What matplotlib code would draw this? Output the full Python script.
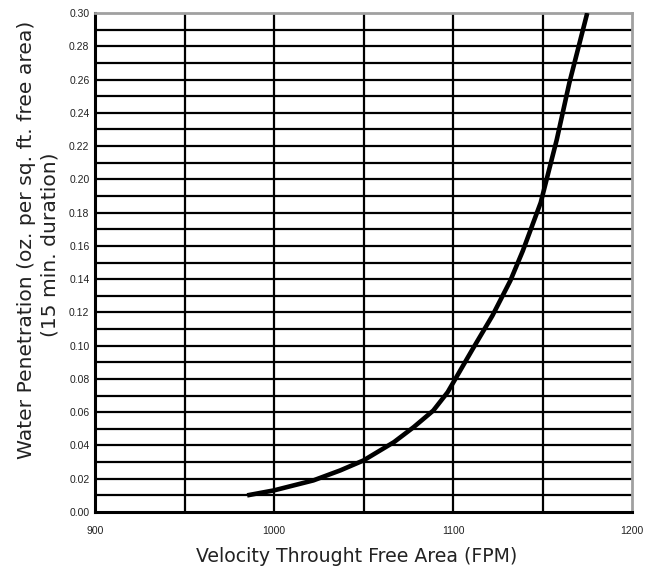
import matplotlib
matplotlib.use("Agg")
import matplotlib.pyplot as plt

velocity = [985, 1000, 1022, 1037, 1050, 1067, 1078, 1089, 1097, 1111, 1122, 1132, 1139, 1149, 1158, 1165, 1175]
penetration = [0.010, 0.013, 0.019, 0.025, 0.031, 0.042, 0.051, 0.061, 0.072, 0.098, 0.118, 0.139, 0.157, 0.186, 0.224, 0.258, 0.300]
x_ticks = [900, 1000, 1100, 1200]
x_grid = [950, 1000, 1050, 1100, 1150]
y_ticks = [0.00, 0.02, 0.04, 0.06, 0.08, 0.10, 0.12, 0.14, 0.16, 0.18, 0.20, 0.22, 0.24, 0.26, 0.28, 0.30]
y_grid = [round(0.01 * i, 2) for i in range(1, 30)]

W, H = 652, 567
fig = plt.figure(figsize=(W / 100, H / 100), dpi=100)
ax = fig.add_axes([95 / W, 55 / H, 537 / W, 499 / H])

for yv in y_grid:
    ax.axhline(yv, color="black", lw=1.6, zorder=1)
for xv in x_grid:
    ax.axvline(xv, color="black", lw=1.6, zorder=1)

ax.plot(velocity, penetration, color="black", lw=3.3, solid_capstyle="butt",
        solid_joinstyle="round", zorder=3)

ax.set_xlim(900, 1200)
ax.set_ylim(0, 0.30)
ax.set_xticks(x_ticks)
ax.set_xticklabels([str(t) for t in x_ticks], fontfamily="Liberation Sans",
                   fontsize=7.5, color="#222222")
ax.set_yticks(y_ticks)
ax.set_yticklabels([f"{t:.2f}" for t in y_ticks], fontfamily="Liberation Sans",
                   fontsize=7.5, color="#222222")
ax.tick_params(axis="x", length=0, pad=10)
ax.tick_params(axis="y", length=0, pad=4)

for s in ["left", "bottom"]:
    ax.spines[s].set_color("black")
    ax.spines[s].set_linewidth(2.2)
for s in ["top", "right"]:
    ax.spines[s].set_color("#a0a0a0")
    ax.spines[s].set_linewidth(2.0)

lab = dict(color="#222222", fontfamily="DejaVu Sans", ha="center", va="center")
fig.text(357 / W, 1 - 556 / H, "Velocity Throught Free Area (FPM)", fontsize=13.6, **lab)
fig.text(27 / W, 1 - 240 / H, "Water Penetration (oz. per sq. ft. free area)",
         rotation=90, fontsize=14.6, **lab)
fig.text(50 / W, 1 - 245 / H, "(15 min. duration)", rotation=90, fontsize=14.6, **lab)

fig.savefig("out.png", dpi=100)
